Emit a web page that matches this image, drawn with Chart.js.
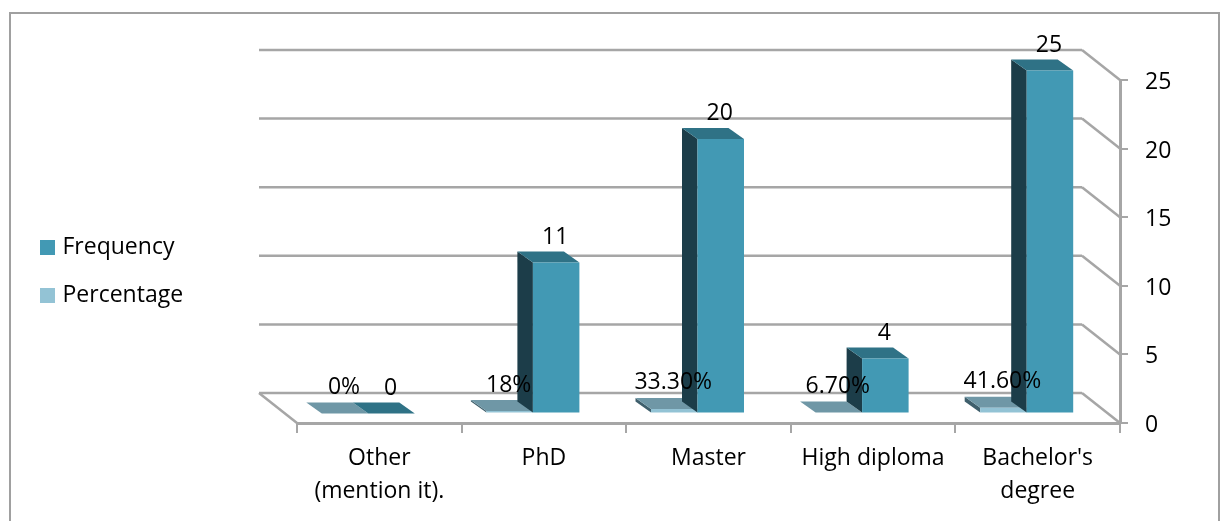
<!DOCTYPE html>
<html>
<head>
<meta charset="utf-8">
<title>Frequency and percentage by qualification</title>
<script src="https://cdn.jsdelivr.net/npm/chart.js@4/dist/chart.umd.min.js"></script>
<style>
  html, body { margin: 0; background: #fff; }
  canvas { display: block; }
</style>
</head>
<body>
<canvas id="chart" width="1224" height="521"></canvas>
<script>
const categories = [["Other", "(mention it)."], "PhD", "Master", "High diploma", ["Bachelor's", "degree"]];
const percentage = [0, 0.18, 0.333, 0.067, 0.416];
const percentageLabels = ["0%", "18%", "33.30%", "6.70%", "41.60%"];
const frequency = [0, 11, 20, 4, 25];

const FONT = "'Open Sans'";
const FONT_SIZE = 23;
const GREY = "#a6a6a6";

// depth of the floor/back wall, and of the boxes standing on it
const WALL = { dx: -38, dy: -30 };
const BOX = { dx: -15.5, dy: -11 };
const PLANE = { dx: -11, dy: -9.5 };

const shades = [
  { side: "#3f5f6c", top: "#6f97a6" },
  { side: "#1c3d49", top: "#2f7286" },
];

function poly(ctx, color, pts) {
  ctx.fillStyle = color;
  ctx.beginPath();
  pts.forEach(([x, y], i) => (i ? ctx.lineTo(x, y) : ctx.moveTo(x, y)));
  ctx.closePath();
  ctx.fill();
}

function swatch(color) {
  const c = document.createElement("canvas");
  c.width = c.height = 15;
  const g = c.getContext("2d");
  g.fillStyle = color;
  g.fillRect(0, 0, 15, 15);
  return c;
}

function line(ctx, x0, y0, x1, y1) {
  ctx.beginPath();
  ctx.moveTo(x0, y0);
  ctx.lineTo(x1, y1);
  ctx.stroke();
}

const frame3d = {
  id: "frame3d",
  afterLayout(chart) {
    chart.legend.left = 19;
    chart.legend.top = 210.6;
  },
  beforeDraw(chart) {
    const { ctx } = chart;
    ctx.save();
    ctx.strokeStyle = "#a0a0a0";
    ctx.lineWidth = 2;
    ctx.strokeRect(10, 13, 1209, 600);
    ctx.restore();
  },
  beforeDatasetsDraw(chart) {
    const { ctx, chartArea: area, scales } = chart;
    ctx.save();

    // back wall lines and their connectors to the axis
    ctx.strokeStyle = GREY;
    ctx.lineWidth = 2.5;
    scales.y.ticks.forEach((t) => {
      const y = scales.y.getPixelForValue(t.value);
      line(ctx, area.left + WALL.dx, y + WALL.dy, area.right + WALL.dx, y + WALL.dy);
      line(ctx, area.right + WALL.dx, y + WALL.dy, area.right, y);
    });
    line(ctx, area.left + WALL.dx, area.bottom + WALL.dy, area.left, area.bottom);

    // boxes, category by category so nearer faces overlap correctly
    ctx.translate(PLANE.dx, PLANE.dy);
    categories.forEach((_, i) => {
      [0, 1].forEach((d) => {
        const bar = chart.getDatasetMeta(d).data[i];
        const left = bar.x - bar.width / 2;
        const right = bar.x + bar.width / 2;
        const { side, top } = shades[d];
        if (bar.base - bar.y > 0.1) {
          poly(ctx, side, [
            [left, bar.y], [left + BOX.dx, bar.y + BOX.dy],
            [left + BOX.dx, bar.base + BOX.dy], [left, bar.base],
          ]);
        }
        poly(ctx, top, [
          [left, bar.y], [left + BOX.dx, bar.y + BOX.dy],
          [right + BOX.dx, bar.y + BOX.dy], [right, bar.y],
        ]);
        bar.draw(ctx);
      });
    });
    ctx.restore();

    // value labels sit over every box
    ctx.save();
    ctx.font = `${FONT_SIZE}px ${FONT}`;
    ctx.fillStyle = "#000";
    ctx.textAlign = "center";
    ctx.textBaseline = "middle";
    categories.forEach((_, i) => {
      const p = chart.getDatasetMeta(0).data[i];
      const f = chart.getDatasetMeta(1).data[i];
      ctx.fillText(percentageLabels[i], p.x + PLANE.dx - 1, p.y + PLANE.dy - 26);
      ctx.fillText(String(frequency[i]), f.x + PLANE.dx - 1, f.y + PLANE.dy - 25.5);
    });
    ctx.restore();
    return false;
  },
};

new Chart(document.getElementById("chart"), {
  type: "bar",
  data: {
    labels: categories,
    datasets: [
      { label: "Percentage", data: percentage, backgroundColor: "#93c3d5" },
      { label: "Frequency", data: frequency, backgroundColor: "#4299b4" },
    ],
  },
  options: {
    responsive: false,
    animation: false,
    datasets: { bar: { categoryPercentage: 0.565, barPercentage: 1 } },
    layout: { padding: { left: 297, top: 80, right: 0, bottom: 0 } },
    plugins: {
      tooltip: { enabled: false },
      legend: {
        position: "chartArea",
        align: "start",
        reverse: true,
        labels: {
          color: "#000",
          font: { family: FONT, size: FONT_SIZE },
          padding: 25,
          usePointStyle: true,
          pointStyleWidth: 7,
          generateLabels: (chart) =>
            chart.data.datasets.map((ds, i) => ({
              text: ds.label,
              datasetIndex: i,
              pointStyle: swatch(ds.backgroundColor),
              lineWidth: 0,
            })),
        },
      },
    },
    scales: {
      x: {
        offset: true,
        afterFit: (s) => { s.height = 98; },
        border: { display: true, color: GREY, width: 3 },
        grid: { offset: true, drawOnChartArea: false, color: GREY, tickLength: 10, lineWidth: 2 },
        ticks: {
          color: "#000",
          font: { family: FONT, size: FONT_SIZE, lineHeight: 1.43 },
          padding: 9.5,
          maxRotation: 0,
          autoSkip: false,
        },
      },
      y: {
        position: "right",
        min: 0,
        max: 25,
        afterFit: (s) => { s.width = 104; },
        border: { display: true, color: GREY, width: 3 },
        grid: { drawOnChartArea: false, color: GREY, tickLength: 8, lineWidth: 2 },
        ticks: {
          stepSize: 5,
          color: "#000",
          // an empty first line nudges the digits down onto their tick marks
          callback: (v) => ["", String(v)],
          font: { family: FONT, size: FONT_SIZE, lineHeight: "5px" },
          padding: 17,
        },
      },
    },
  },
  plugins: [frame3d],
});
</script>
</body>
</html>
